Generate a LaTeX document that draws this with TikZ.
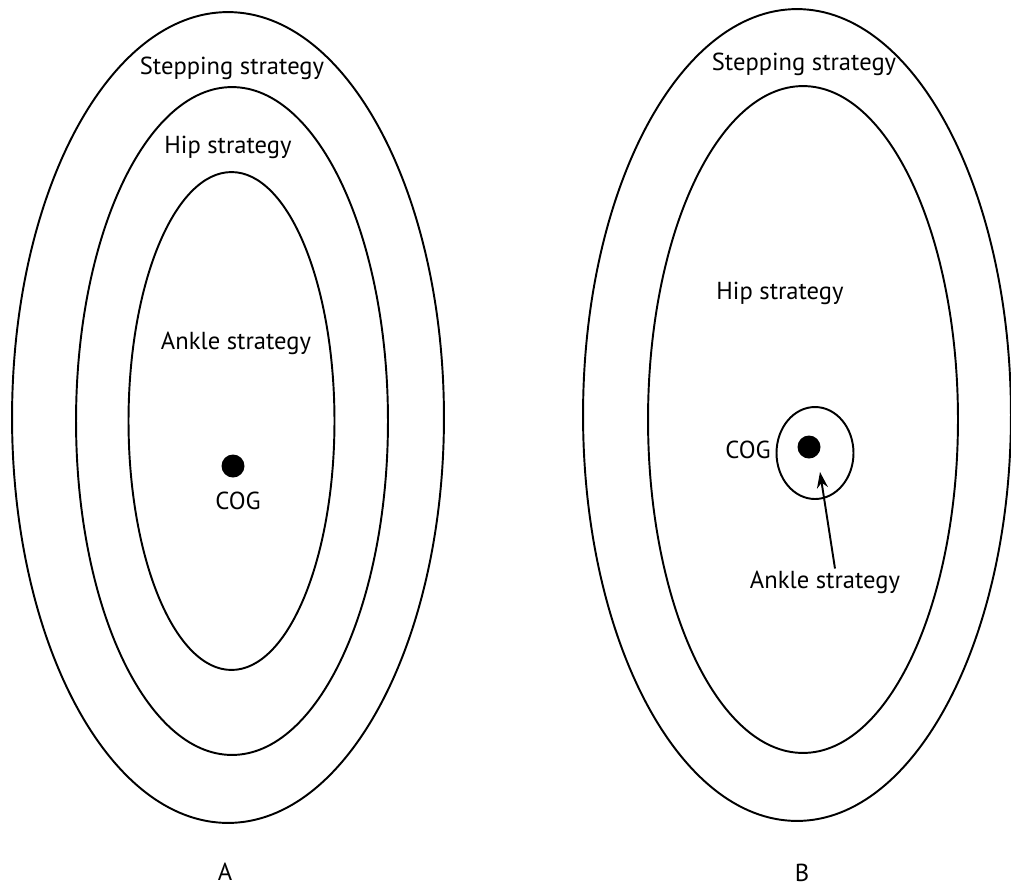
\documentclass[tikz,border=0pt]{standalone}
\usepackage{fontspec}
\setmainfont{PT Sans}
\usetikzlibrary{arrows.meta}

\begin{document}
\begin{tikzpicture}[x=0.02cm,y=-0.02cm,
      zone/.style={draw,line width=1.1pt},
      lbl/.style={font=\fontsize{14}{16}\selectfont,inner sep=1pt},
      cog/.style={fill,circle,minimum size=0.46cm,inner sep=0pt},
      arr/.style={-{Stealth[length=0.32cm,width=0.22cm]},line width=1.1pt}]
    \useasboundingbox (0,0) rectangle (1011,887);
    % A
    \draw[zone] (228,417.5) ellipse [x radius=4.32cm, y radius=8.11cm];
    \draw[zone] (232,421)   ellipse [x radius=3.12cm, y radius=6.68cm];
    \draw[zone] (231.5,421) ellipse [x radius=2.06cm, y radius=4.98cm];
    \node[lbl] (stepA)  at(232,68)  {Stepping strategy};
    \node[lbl] (hipA)   at(228,147) {Hip strategy};
    \node[lbl] (ankleA) at(236,343) {Ankle strategy};
    \node[cog] (dotA)   at(233,466) {};
    \node[lbl] (cogA)   at(238,501) {COG};
    \node[lbl] (capA)   at(225,872) {A};
    % B
    \draw[zone] (797,415)   ellipse [x radius=4.28cm, y radius=8.12cm];
    \draw[zone] (803,419.5) ellipse [x radius=3.10cm, y radius=6.67cm];
    \draw[zone] (815,453)   ellipse [x radius=0.77cm, y radius=0.92cm];
    \node[lbl] (stepB)  at(804,64)  {Stepping strategy};
    \node[lbl] (hipB)   at(780,293) {Hip strategy};
    \node[cog] (dotB)   at(809,447) {};
    \node[lbl] (cogB)   at(748,450) {COG};
    \node[lbl] (ankleB) at(825,582) {Ankle strategy};
    \node[lbl] (capB)   at(802,873) {B};
    \coordinate (tipB) at(820,472);
    \draw[arr] ([xshift=0.2cm]ankleB.north) -- (tipB);
\end{tikzpicture}
\end{document}
